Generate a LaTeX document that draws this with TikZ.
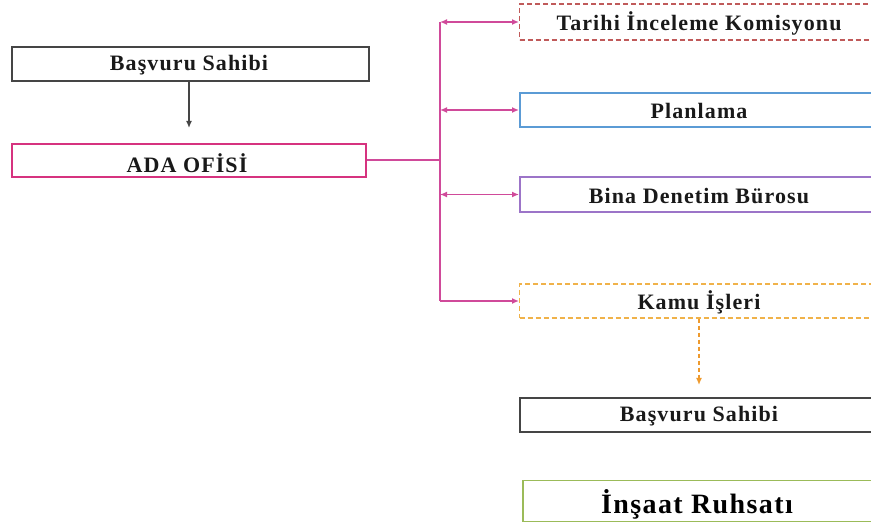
\documentclass[tikz,border=0pt]{standalone}
\usepackage{fontspec}
\setmainfont{Liberation Serif}[LetterSpace=5]
\usetikzlibrary{arrows.meta}
\definecolor{dgray}{HTML}{454545}
\definecolor{adapink}{HTML}{D6337F}
\definecolor{conpink}{HTML}{D04A9A}
\definecolor{tarred}{HTML}{C05A5A}
\definecolor{planblue}{HTML}{5B9BD5}
\definecolor{binapur}{HTML}{9C74C8}
\definecolor{kamuor}{HTML}{F0B24A}
\definecolor{arror}{HTML}{EE9A2E}
\definecolor{ruhgreen}{HTML}{9BBB59}
\tikzset{
  box/.style={draw, line width=1.8pt, rectangle, inner sep=0pt},
  txt/.style={font=\fontsize{22}{26}\bfseries\selectfont, inner sep=0pt, text=black!90},
  bigtxt/.style={font=\fontsize{28}{32}\bfseries\selectfont, inner sep=0pt, text=black},
  tip/.style={Latex[length=7pt,width=6pt]},
  pinkarr/.style={conpink, line width=1.3pt, {Latex[length=7pt,width=6pt]}-{Latex[length=7pt,width=6pt]}},
  pinkone/.style={conpink, line width=1.3pt, -{Latex[length=7pt,width=6pt]}},
  dashbox/.style={box, dashed, dash pattern=on 5pt off 3pt, line width=1.3pt},
}
\begin{document}
\begin{tikzpicture}[x=1pt,y=-1pt]
\useasboundingbox (0,0) rectangle (871,529);
\clip (0,0) rectangle (871,529);
% left column
\node[box, draw=dgray, minimum width=357pt, minimum height=34pt] (bas1) at (190.5,64) {};
\node[txt] (bas1t) at (189,65) {Başvuru Sahibi};
\node[box, draw=adapink, minimum width=354pt, minimum height=33pt] (ada) at (189,160.5) {};
\node[txt] (adat) at (187,163) {ADA OFİSİ};
\coordinate (a1) at (189,128);
\draw[dgray, line width=1.3pt, -{Latex[length=7pt,width=6pt]}] (bas1.south -| a1) -- (a1);
% right column boxes
\node[dashbox, draw=tarred, minimum width=420pt, minimum height=36pt, anchor=west] (tar) at (519,22) {};
\node[txt] (tart) at (699,23) {Tarihi İnceleme Komisyonu};
\node[box, draw=planblue, minimum width=420pt, minimum height=34pt, anchor=west] (plan) at (519,110) {};
\node[txt] (plant) at (699,111) {Planlama};
\node[box, draw=binapur, minimum width=420pt, minimum height=35pt, anchor=west] (bina) at (519,194.5) {};
\node[txt] (binat) at (699,196) {Bina Denetim Bürosu};
\node[dashbox, draw=kamuor, minimum width=420pt, minimum height=34pt, anchor=west] (kamu) at (519,301) {};
\node[txt] (kamut) at (699,302) {Kamu İşleri};
\node[box, draw=dgray, minimum width=420pt, minimum height=34pt, anchor=west] (bas2) at (519,415) {};
\node[txt] (bas2t) at (699,416) {Başvuru Sahibi};
\node[box, draw=ruhgreen, minimum width=420pt, minimum height=41pt, anchor=west] (ruh) at (522,501) {};
\node[bigtxt] (ruht) at (697,504) {İnşaat Ruhsatı};
% connectors
\coordinate (j) at (440,160);
\coordinate (jt) at (440,22);
\coordinate (jp) at (440,110);
\coordinate (jb) at (440,194.5);
\coordinate (jk) at (440,301);
\draw[conpink, line width=1.3pt] (ada.east |- j) -- (j);
\draw[conpink, line width=1.3pt] (jt) -- (jk);
\draw[pinkarr] (jt) -- (tar.west);
\draw[pinkarr] (jp) -- (plan.west);
\draw[pinkarr] (jb) -- (bina.west);
\draw[pinkone] (jk) -- (kamu.west);
\draw[arror, line width=1.3pt, dashed, dash pattern=on 4pt off 3pt, -{Latex[length=7pt,width=6pt]}] (kamu.south -| kamut) -- (kamut |- 0,385);
\end{tikzpicture}
\end{document}
